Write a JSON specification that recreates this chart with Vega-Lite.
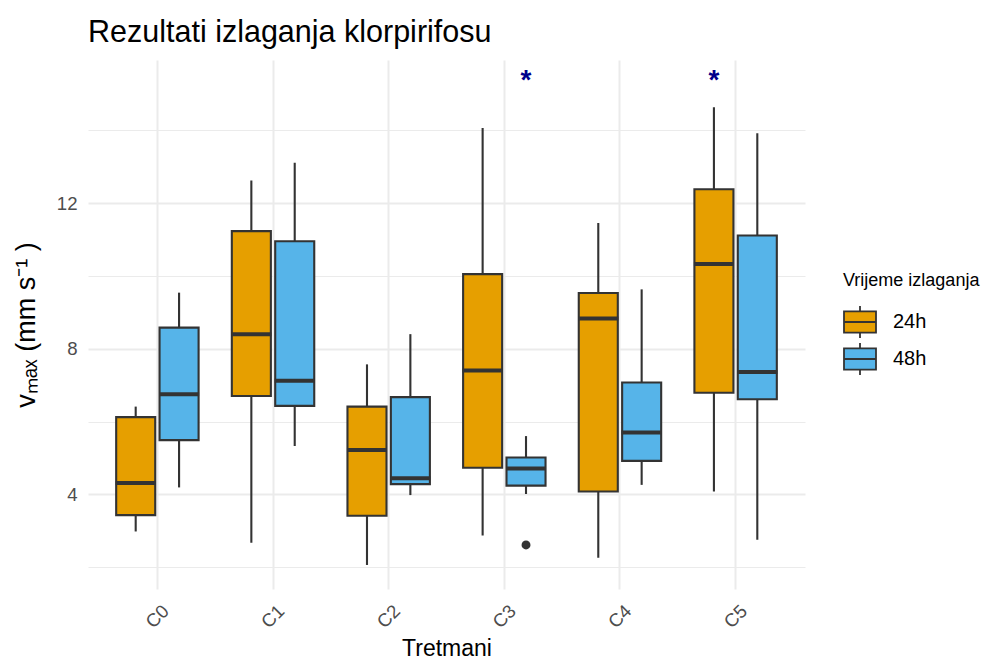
{
  "$schema": "https://vega.github.io/schema/vega-lite/v6.json",
  "autosize": "none",
  "width": 717,
  "height": 529,
  "padding": {"left": 88, "top": 60, "right": 179, "bottom": 72},
  "background": "white",
  "title": {"text": "Rezultati izlaganja klorpirifosu", "anchor": "start", "frame": "group", "fontSize": 30.5, "font": "Liberation Sans", "fontWeight": "normal", "color": "black", "offset": 18, "dy": 30, "baseline": "alphabetic"},
  "config": {
    "view": {"stroke": null},
    "font": "Liberation Sans",
    "axis": {"domain": false, "ticks": false, "tickSize": 0, "gridColor": "#EBEBEB", "labelFont": "Liberation Sans", "titleFont": "Liberation Sans", "labelColor": "#4D4D4D", "labelFontSize": 18.6, "titleFontSize": 23, "titleFontWeight": "normal", "titleColor": "black"}
  },
  "datasets": {
    "boxes": [
      {"trt": "C0", "grp": "24h", "lo": 2.98, "q1": 3.43, "med": 4.31, "q3": 6.12, "hi": 6.41},
      {"trt": "C0", "grp": "48h", "lo": 4.19, "q1": 5.49, "med": 6.75, "q3": 8.58, "hi": 9.54},
      {"trt": "C1", "grp": "24h", "lo": 2.67, "q1": 6.70, "med": 8.40, "q3": 11.23, "hi": 12.62},
      {"trt": "C1", "grp": "48h", "lo": 5.33, "q1": 6.43, "med": 7.12, "q3": 10.95, "hi": 13.11},
      {"trt": "C2", "grp": "24h", "lo": 2.06, "q1": 3.41, "med": 5.22, "q3": 6.41, "hi": 7.57},
      {"trt": "C2", "grp": "48h", "lo": 3.98, "q1": 4.28, "med": 4.44, "q3": 6.67, "hi": 8.40},
      {"trt": "C3", "grp": "24h", "lo": 2.87, "q1": 4.73, "med": 7.40, "q3": 10.05, "hi": 14.06},
      {"trt": "C3", "grp": "48h", "lo": 4.01, "q1": 4.24, "med": 4.71, "q3": 5.01, "hi": 5.60},
      {"trt": "C4", "grp": "24h", "lo": 2.26, "q1": 4.08, "med": 8.83, "q3": 9.53, "hi": 11.45},
      {"trt": "C4", "grp": "48h", "lo": 4.26, "q1": 4.92, "med": 5.70, "q3": 7.07, "hi": 9.63},
      {"trt": "C5", "grp": "24h", "lo": 4.08, "q1": 6.79, "med": 10.33, "q3": 12.38, "hi": 14.63},
      {"trt": "C5", "grp": "48h", "lo": 2.75, "q1": 6.61, "med": 7.36, "q3": 11.11, "hi": 13.92}
    ],
    "outliers": [
      {"trt": "C3", "grp": "48h", "val": 2.61}
    ],
    "stars": [
      {"trt": "C3", "grp": "48h", "val": 15.36, "lab": "*"},
      {"trt": "C5", "grp": "24h", "val": 15.36, "lab": "*"}
    ]
  },
  "data": {"name": "boxes"},
  "encoding": {
    "x": {"field": "trt", "type": "nominal", "title": "Tretmani",
      "scale": {"domain": ["C0", "C1", "C2", "C3", "C4", "C5"], "paddingInner": 0, "paddingOuter": 0.1},
      "axis": {"labelAngle": -45, "labelAlign": "center", "labelBaseline": "middle", "labelPadding": 27, "grid": true, "gridWidth": 2, "bandPosition": 0.5, "titlePadding": 6}},
    "xOffset": {"field": "grp", "type": "nominal", "scale": {"domain": ["24h", "48h"], "paddingInner": 0.1, "paddingOuter": 0.383}}
  },
  "layer": [
    {
      "mark": {"type": "rule", "color": "#333333", "strokeWidth": 2.1},
      "encoding": {
        "y": {"field": "lo", "type": "quantitative", "title": "vₘₐₓ   (mm s⁻¹  )",
          "scale": {"domain": [1.40, 15.93], "nice": false, "zero": false},
          "axis": {"values": [2, 4, 6, 8, 10, 12, 14], "labelExpr": "datum.value % 4 == 0 ? datum.label : ''", "grid": true, "gridWidth": {"condition": {"test": "datum.value % 4 == 0", "value": 2}, "value": 1}, "labelPadding": 11, "titlePadding": 16, "titleFontSize": 27}},
        "y2": {"field": "hi"}
      }
    },
    {
      "mark": {"type": "bar", "stroke": "#333333", "strokeWidth": 2.1},
      "encoding": {
        "y": {"field": "q1", "type": "quantitative", "title": "vₘₐₓ   (mm s⁻¹  )"},
        "y2": {"field": "q3"},
        "fill": {"field": "grp", "type": "nominal",
          "scale": {"domain": ["24h", "48h"], "range": ["#E69F00", "#56B4E9"]},
          "legend": {"orient": "none", "legendX": 755, "legendY": 212, "title": "Vrijeme izlaganja", "titleFontSize": 18, "titleFontWeight": "normal", "titleColor": "black", "titleFont": "Liberation Sans", "labelFont": "Liberation Sans", "labelFontSize": 20, "labelColor": "black", "symbolType": "M-1,-0.66H1V0.66H-1Z M-1,0H1 M0,-0.66V-1 M0,0.66V1", "symbolSize": 1024, "symbolStrokeColor": "#333333", "symbolStrokeWidth": 1.8, "symbolOpacity": 1, "labelOffset": 16, "rowPadding": -3, "titlePadding": 15, "padding": 0}
        }
      }
    },
    {
      "mark": {"type": "tick", "color": "#333333", "thickness": 4, "size": 40, "opacity": 1},
      "encoding": {
        "y": {"field": "med", "type": "quantitative", "title": "vₘₐₓ   (mm s⁻¹  )"}
      }
    },
    {
      "data": {"name": "outliers"},
      "mark": {"type": "point", "filled": true, "color": "#333333", "size": 80, "opacity": 1},
      "encoding": {
        "y": {"field": "val", "type": "quantitative", "title": "vₘₐₓ   (mm s⁻¹  )"}
      }
    },
    {
      "data": {"name": "stars"},
      "mark": {"type": "text", "color": "#00008B", "fontSize": 28, "fontWeight": "bold", "baseline": "middle", "align": "center"},
      "encoding": {
        "y": {"field": "val", "type": "quantitative", "title": "vₘₐₓ   (mm s⁻¹  )"},
        "text": {"field": "lab"}
      }
    }
  ]
}
